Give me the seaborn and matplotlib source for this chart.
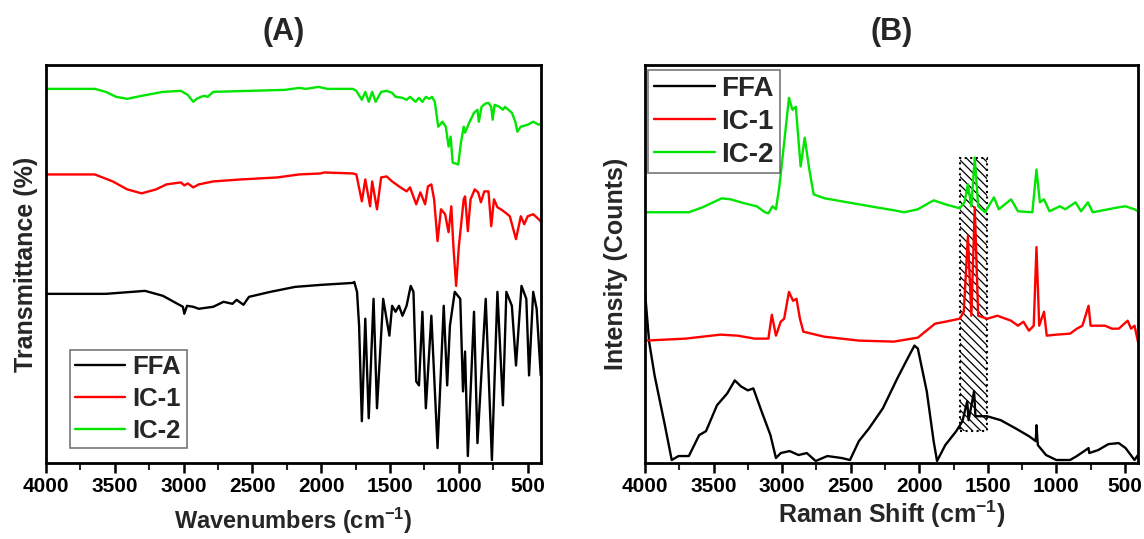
import numpy as np
import pandas as pd
import matplotlib
matplotlib.use("Agg")
import matplotlib.pyplot as plt
from matplotlib.patches import Rectangle
from matplotlib.lines import Line2D
import seaborn as sns

# ---------------- data: FTIR (panel A) ----------------
ftir_ic2_x = [4000, 3645, 3565, 3490, 3410, 3305, 3150, 3020, 2970, 2930, 2905, 2875, 2850, 2825, 2785,
              2525, 2265, 2160, 2110, 2020, 1955, 1770, 1745, 1705, 1680, 1655, 1630, 1605, 1565, 1525,
              1485, 1460, 1410, 1380, 1355, 1315, 1290, 1265, 1240, 1215, 1195, 1175, 1150, 1120, 1095,
              1075, 1060, 1045, 1005, 985, 965, 955, 925, 890, 865, 855, 835, 810, 785, 765, 755, 740,
              705, 680, 665, 640, 615, 590, 575, 550, 500, 460, 420, 400]
ftir_ic2_y = [376, 376, 373, 368, 366, 369, 373, 374, 370, 363, 366, 368, 369, 368, 373,
              374, 375, 377, 376, 378, 376, 376, 374, 365, 373, 363, 373, 363, 373, 374,
              372, 368, 367, 365, 368, 363, 367, 363, 368, 366, 368, 363, 338, 343, 338,
              318, 328, 302, 300, 322, 338, 332, 342, 352, 355, 343, 358, 361, 362, 358, 345, 360,
              358, 355, 358, 355, 352, 343, 333, 338, 340, 343, 340, 341]

ftir_ic1_x = [4000, 3645, 3515, 3410, 3305, 3200, 3125, 3020, 2995, 2970, 2930, 2890, 2785, 2580, 2320,
              2160, 2005, 1980, 1770, 1745, 1705, 1680, 1645, 1630, 1595, 1565, 1525, 1485, 1435, 1380,
              1355, 1310, 1280, 1245, 1225, 1200, 1180, 1155, 1130, 1100, 1075, 1055, 1040, 1020, 1000,
              985, 965, 955, 935, 915, 885, 860, 840, 815, 785, 765, 745, 720, 695, 665, 630, 585, 550,
              525, 500, 460, 420, 400]
ftir_ic1_y = [290, 290, 283, 275, 271, 275, 280, 282, 279, 281, 277, 280, 283, 285, 287,
              290, 291, 292, 291, 290, 263, 285, 258, 283, 255, 287, 288, 283, 278, 273,
              277, 260, 272, 260, 278, 280, 265, 223, 255, 250, 232, 258, 218, 178, 218,
              238, 265, 268, 233, 265, 275, 272, 262, 273, 273, 238, 265, 257, 255, 252, 248, 225, 248,
              240, 248, 250, 245, 242]

ftir_ffa_x = [4000, 3565, 3280, 3150, 3045, 3005, 2995, 2975, 2930, 2890, 2785, 2710, 2645, 2615, 2565,
              2525, 2370, 2190, 2005, 1770, 1760, 1740, 1725, 1705, 1680, 1655, 1620, 1595, 1550, 1505,
              1485, 1460, 1435, 1410, 1380, 1350, 1330, 1310, 1290, 1265, 1240, 1200, 1155, 1110, 1085,
              1065, 1030, 990, 970, 955, 935, 890, 865, 805, 760, 720, 680, 655, 615, 585, 545, 510,
              490, 460, 435, 405, 400]
ftir_ffa_y = [170, 170, 173, 168, 160, 157, 150, 158, 157, 155, 157, 162, 160, 164, 159,
              167, 172, 177, 179, 181, 182, 172, 138, 42, 145, 45, 165, 55, 165, 128,
              158, 152, 158, 148, 158, 178, 172, 82, 78, 152, 55, 148, 15, 158, 78,
              138, 172, 165, 72, 112, 7, 152, 20, 165, 3, 172, 58, 172, 158, 98, 178, 165,
              88, 172, 155, 88, 88]

# ---------------- data: Raman (panel B) ----------------
raman_ic2_x = [4000, 3680, 3580, 3440, 3375, 3275, 3185, 3125, 3100, 3070, 3045, 3020, 2985, 2950, 2925,
               2900, 2865, 2835, 2805, 2770, 2690, 2565, 2440, 2315, 2185, 2110, 2010, 1895, 1810, 1705,
               1670, 1645, 1620, 1595, 1570, 1520, 1455, 1420, 1330, 1280, 1175, 1145, 1120, 1090, 1050,
               975, 935, 860, 820, 770, 735, 545, 495, 430, 405]
raman_ic2_y = [252, 252, 257, 266, 265, 261, 258, 252, 251, 258, 255, 278, 322, 367, 355,
               358, 298, 327, 298, 270, 266, 263, 260, 257, 254, 252, 255, 264, 260, 256,
               262, 280, 258, 307, 258, 252, 267, 255, 265, 253, 252, 295, 262, 265, 253,
               258, 255, 262, 253, 262, 252, 257, 258, 255, 253]

raman_ic1_x = [4000, 3705, 3450, 3325, 3200, 3100, 3075, 3045, 3010, 2985, 2950, 2920, 2895, 2870, 2845,
               2695, 2440, 2185, 2010, 1885, 1810, 1705, 1675, 1645, 1620, 1595, 1570, 1505, 1430, 1330,
               1280, 1240, 1200, 1165, 1145, 1125, 1090, 1070, 1000, 900, 850, 810, 765, 750, 645, 595,
               545, 480, 455, 430, 405]
raman_ic1_y = [123, 125, 129, 128, 125, 125, 149, 128, 142, 145, 172, 163, 165, 145, 132,
               127, 123, 122, 126, 140, 142, 145, 152, 228, 148, 257, 148, 145, 148, 143,
               138, 142, 133, 138, 217, 138, 152, 128, 129, 130, 135, 138, 158, 138, 138, 135,
               135, 143, 135, 138, 122]

raman_ffa_x = [4000, 3970, 3930, 3855, 3805, 3755, 3680, 3605, 3555, 3475, 3400, 3345, 3300, 3250, 3210,
               3150, 3085, 3045, 3010, 2945, 2880, 2820, 2755, 2670, 2565, 2505, 2440, 2365, 2265, 2160,
               2085, 2035, 2010, 1945, 1895, 1870, 1810, 1730, 1685, 1650, 1640, 1600, 1590, 1505, 1405,
               1300, 1200, 1150, 1145, 1135, 1075, 1000, 900, 850, 765, 760, 695, 620, 545, 495, 430, 405]
raman_ffa_y = [172, 122, 88, 38, 3, 7, 7, 28, 32, 58, 70, 83, 77, 73, 75,
               52, 28, 5, 10, 12, 8, 10, 2, 7, 5, 3, 22, 35, 55, 85,
               105, 118, 115, 72, 22, 2, 18, 32, 42, 62, 43, 72, 47, 47, 43,
               35, 27, 22, 38, 18, 8, 3, 3, 7, 15, 10, 13, 19, 20, 15, 3, 8]

series_names = ["FFA", "IC-1", "IC-2"]
series_colors = ["#000000", "#ff0000", "#00e600"]
hatch_box = (1505, 1705, 32, 307)  # x0, x1, y0, y1 in Raman data units

# ---------------- styling ----------------
sns.set_theme(style="white")
plt.rcParams["font.family"] = ["Liberation Sans", "DejaVu Sans"]
plt.rcParams["font.weight"] = "bold"
plt.rcParams["mathtext.fontset"] = "custom"
plt.rcParams["mathtext.rm"] = "Liberation Sans:bold"
plt.rcParams["mathtext.bf"] = "Liberation Sans:bold"
plt.rcParams["mathtext.default"] = "bf"
plt.rcParams["hatch.linewidth"] = 0.9

fig = plt.figure(figsize=(11.44, 5.39), dpi=100)
axA = fig.add_axes([0.0402, 0.1410, 0.4331, 0.7384])
axB = fig.add_axes([0.5638, 0.1410, 0.4309, 0.7384])


def make_df(xs, ys):
    frames = []
    for name, x, y in zip(series_names, xs, ys):
        frames.append(pd.DataFrame({"x": x, "y": y, "series": name}))
    return pd.concat(frames, ignore_index=True)


dfA = make_df([ftir_ffa_x, ftir_ic1_x, ftir_ic2_x], [ftir_ffa_y, ftir_ic1_y, ftir_ic2_y])
dfB = make_df([raman_ffa_x, raman_ic1_x, raman_ic2_x], [raman_ffa_y, raman_ic1_y, raman_ic2_y])
palette = dict(zip(series_names, series_colors))

for ax, df in [(axA, dfA), (axB, dfB)]:
    sns.lineplot(data=df, x="x", y="y", hue="series", palette=palette, estimator=None,
                 sort=False, linewidth=1.7, ax=ax, legend=False)
    ax.set_ylim(0, 400)
    ax.set_yticks([])
    ax.set_xticks([4000, 3500, 3000, 2500, 2000, 1500, 1000, 500])
    ax.set_xticks(np.arange(3750, 400, -500), minor=True)
    ax.tick_params(axis="x", which="major", direction="out", length=7, width=1.8,
                   labelsize=15, pad=3, bottom=True, colors="black")
    ax.tick_params(axis="x", which="minor", direction="out", length=5, width=1.5, bottom=True)
    for lbl in ax.get_xticklabels():
        lbl.set_fontweight("bold")
    for sp in ax.spines.values():
        sp.set_visible(True)
        sp.set_color("black")
        sp.set_linewidth(2.0)

axA.set_xlim(4000, 400)
axB.set_xlim(4000, 405)

axA.set_xlabel("Wavenumbers (cm$^{-1}$)", fontsize=17, fontweight="bold", labelpad=7)
axA.set_ylabel("Transmittance (%)", fontsize=18, fontweight="bold", labelpad=6)
axB.set_xlabel("Raman Shift (cm$^{\\mathbf{-1}}$)", fontsize=18, fontweight="bold", labelpad=2)
axB.set_ylabel("Intensity (Counts)", fontsize=18, fontweight="bold", labelpad=12)

axA.set_title("(A)", fontsize=22, fontweight="bold", pad=18, x=0.48)
axB.set_title("(B)", fontsize=22, fontweight="bold", pad=18)

# hatched region in Raman panel
x0, x1, y0, y1 = hatch_box
axB.add_patch(Rectangle((x1, y0), x0 - x1, y1 - y0, fill=False, hatch="\\" * 4,
                        edgecolor="black", linestyle=":", linewidth=1.5, zorder=1))

handles = [Line2D([], [], color=c, linewidth=1.7) for c in series_colors]
legA = axA.legend(handles, series_names, loc="lower left", bbox_to_anchor=(0.048, 0.038),
                  frameon=True, fancybox=False, edgecolor="#555555", fontsize=18.5,
                  handlelength=1.95, handletextpad=0.3, labelspacing=0.3, borderpad=0.2,
                  borderaxespad=0)
legB = axB.legend(handles, series_names, loc="upper left", bbox_to_anchor=(0.006, 0.987),
                  frameon=True, fancybox=False, edgecolor="#555555", fontsize=20,
                  handlelength=2.2, handletextpad=0.25, labelspacing=0.25, borderpad=0.2,
                  borderaxespad=0)
for leg in (legA, legB):
    leg.get_frame().set_linewidth(1.2)
    for t in leg.get_texts():
        t.set_fontweight("bold")

fig.savefig("out.png", dpi=100)
